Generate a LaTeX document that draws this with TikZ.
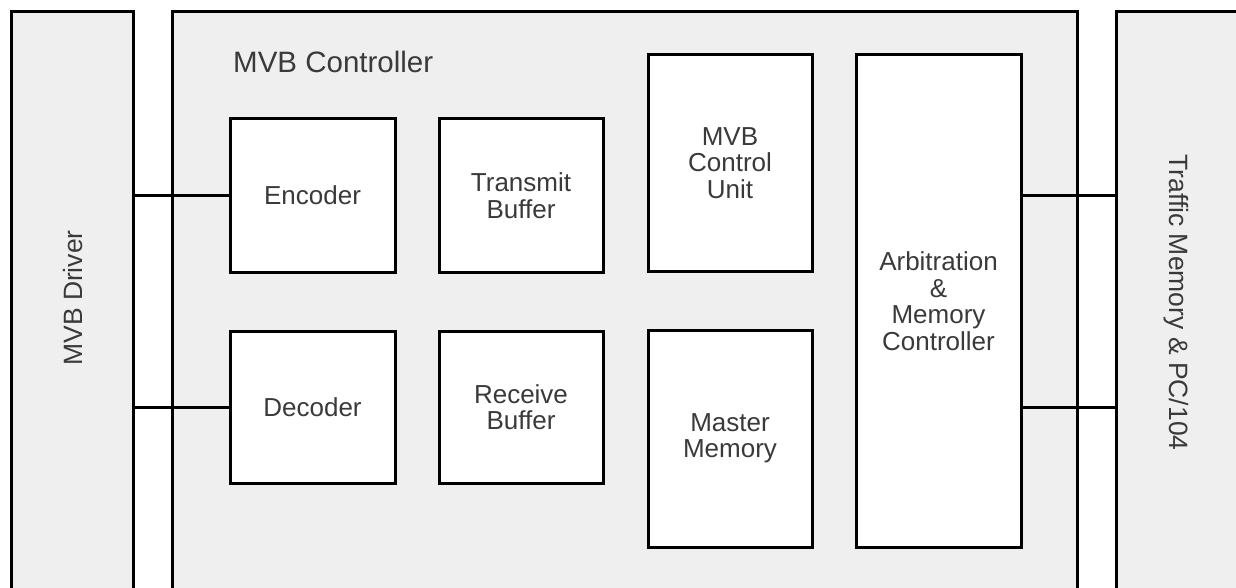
\documentclass[tikz,border=0pt]{standalone}
\usepackage{fontspec}
\setmainfont{Liberation Sans}
\definecolor{panel}{HTML}{EFEFEF}
\definecolor{ink}{HTML}{3A3A3A}
\tikzset{
  outer/.style={draw=black, line width=3pt, fill=panel, inner sep=0pt},
  block/.style={draw=black, line width=3pt, fill=white, inner sep=0pt, align=center,
    text=ink, font=\fontsize{26}{26.5}\selectfont},
  lbl/.style={text=ink, inner sep=0pt, font=\fontsize{26.5}{27}\selectfont},
  wire/.style={draw=black, line width=3pt}
}
\begin{document}
\begin{tikzpicture}[x=1pt,y=-1pt]
\useasboundingbox (0,0) rectangle (1236,588);
\fill[white] (0,0) rectangle (1236,588);
\clip (0,0) rectangle (1236,588);
% outer boxes
\node[outer, minimum width=122, minimum height=580] (drv) at (72,302) {};
\node[outer, minimum width=905, minimum height=580] (ctl) at (624.5,302) {};
\node[outer, minimum width=140, minimum height=580] (tm) at (1186,302) {};
\node[lbl, rotate=90] (drvt) at (73,298) {MVB Driver};
\node[lbl, rotate=-90] (tmt) at (1176,302.5) {Traffic Memory \& PC/104};
\node[lbl, font=\fontsize{29.5}{30}\selectfont, anchor=base west] (ctlt) at (233,73) {MVB Controller};
% inner blocks
\node[block, minimum width=165, minimum height=153] (enc) at (312.5,195.5) {Encoder};
\node[block, minimum width=165, minimum height=152] (dec) at (312.5,407) {Decoder};
\node[block, minimum width=164, minimum height=153] (tb) at (521,195.5) {Transmit\\Buffer};
\node[block, minimum width=164, minimum height=152] (rb) at (521,407) {Receive\\Buffer};
\node[block, minimum width=164, minimum height=216] (cu) at (730,163) {MVB\\Control\\Unit};
\node[block, minimum width=164, minimum height=217] (mm) at (730,438.5) {Master\\Memory};
\node[block, minimum width=165, minimum height=492] (arb) at (938.5,301) {Arbitration\\\&\\Memory\\Controller};
% wires
\draw[wire] (enc.west) -- (enc.west -| drv.east);
\draw[wire] (dec.west) -- (dec.west -| drv.east);
\draw[wire] (arb.east |- enc.west) -- (tm.west |- enc.west);
\draw[wire] (arb.east |- dec.west) -- (tm.west |- dec.west);
\end{tikzpicture}
\end{document}
